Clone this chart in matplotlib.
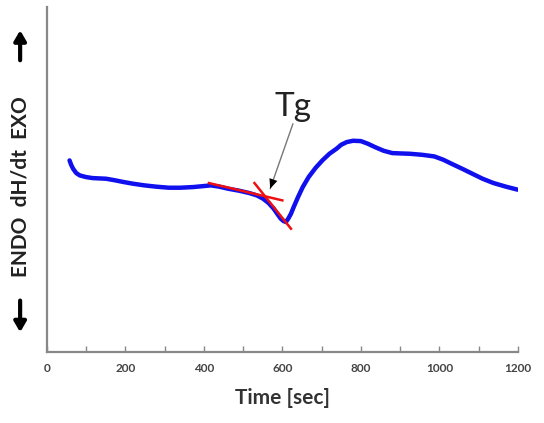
import matplotlib.pyplot as plt
from matplotlib.patches import FancyArrowPatch

# heat flow trace (arbitrary units)
time_s = [58, 62, 67, 75, 84, 100, 116, 151, 175, 196, 220, 249, 280, 311,
          340, 373, 400, 418, 440, 462, 490, 516, 535, 551, 565, 578, 588,
          596, 603, 609, 615, 622, 630, 640, 652, 667, 685, 702, 720, 738,
          750, 764, 780, 800, 818, 836, 858, 880, 900, 924, 955, 987, 1010,
          1031, 1058, 1084, 1110, 1138, 1170, 1200]
heat = [575, 562, 550, 537, 530, 525, 522, 520, 515, 510, 505, 500, 496, 493,
        493, 495, 498, 500, 496, 490, 484, 477, 470, 460, 447, 430, 413,
        400, 393, 390, 400, 415, 438, 465, 495, 525, 553, 575, 595, 610,
        622, 630, 634, 633, 625, 615, 604, 597, 596, 595, 592, 587, 577,
        565, 550, 535, 520, 507, 496, 487]

# tangent lines used to locate Tg
tan1_t = [413, 600]
tan1_v = [507, 455]
tan2_t = [529, 622]
tan2_v = [507, 370]

tg_text_pos = (627, 735)
tg_arrow_end = (569, 490)
tg_arrow_start = (627, 685)

xticks = [0, 200, 400, 600, 800, 1000, 1200]

fig = plt.figure(figsize=(5.44, 4.23), dpi=100)
ax = fig.add_axes([0.086, 0.168, 0.866, 0.815])

ax.plot(time_s, heat, color='#1010ee', lw=3.2, solid_capstyle='round',
        solid_joinstyle='round', zorder=2)
ax.plot(tan1_t, tan1_v, color='#ee1010', lw=1.8, zorder=3)
ax.plot(tan2_t, tan2_v, color='#ee1010', lw=1.8, zorder=3)

ax.text(tg_text_pos[0], tg_text_pos[1], 'Tg', fontsize=24, ha='center',
        va='center', family='Lato', color='#222222')
ax.annotate('', xy=tg_arrow_end, xytext=tg_arrow_start,
            arrowprops=dict(arrowstyle='-', color='#777777', lw=1,
                            shrinkA=0, shrinkB=0))
ax.annotate('', xy=tg_arrow_end, xytext=(tg_arrow_end[0] + 6, tg_arrow_end[1] + 20),
            arrowprops=dict(arrowstyle='-|>,head_length=0.7,head_width=0.3',
                            color='black', lw=0, shrinkA=0, shrinkB=0))

ax.set_xlim(0, 1200)
ax.set_ylim(0, 1035)
ax.set_xticks(xticks)
ax.set_xticks(range(100, 1200, 200), minor=True)
ax.set_yticks([])
ax.tick_params(axis='x', which='both', direction='in', length=4, width=1,
               color='#888888', labelsize=8.5, labelcolor='#444444', pad=8)
for s in ['top', 'right']:
    ax.spines[s].set_visible(False)
for s in ['left', 'bottom']:
    ax.spines[s].set_color('#888888')
    ax.spines[s].set_linewidth(1.6)
for lab in ax.get_xticklabels():
    lab.set_family('Lato')
    lab.set_fontweight('bold')

ax.set_xlabel('Time [sec]', fontsize=15, fontweight='bold', family='Lato',
              color='#333333', labelpad=10)

fig.text(0.037, 0.558, 'ENDO  dH/dt  EXO', rotation=90, ha='center', va='center',
         fontsize=15, fontweight='bold', family='Lato', color='#222222')
fig.patches.append(FancyArrowPatch(
    (0.037, 0.851), (0.037, 0.935), transform=fig.transFigure,
    arrowstyle='-|>,head_length=6,head_width=3.5', color='black', lw=3))
fig.patches.append(FancyArrowPatch(
    (0.037, 0.296), (0.037, 0.208), transform=fig.transFigure,
    arrowstyle='-|>,head_length=6,head_width=3.5', color='black', lw=3))

fig.savefig('out.png', dpi=100)
